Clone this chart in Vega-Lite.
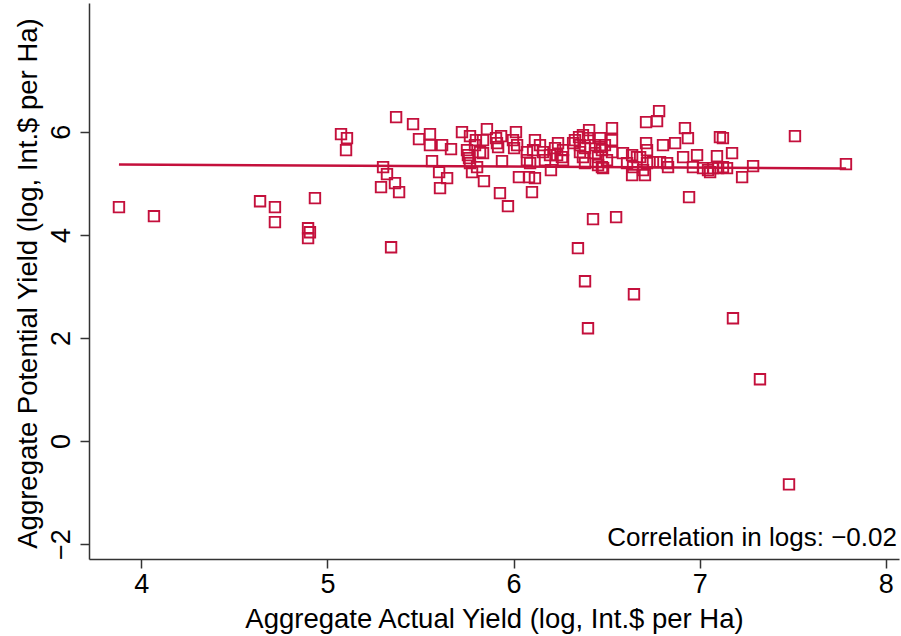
{
  "$schema": "https://vega.github.io/schema/vega-lite/v6.json",
  "width": 810,
  "height": 556,
  "autosize": {"type": "none"},
  "padding": {"left": 89, "top": 3, "right": 2, "bottom": 77},
  "background": "white",
  "config": {
    "view": {"stroke": null},
    "font": "Liberation Sans",
    "axis": {
      "grid": false,
      "labelFont": "Liberation Sans",
      "titleFont": "Liberation Sans",
      "labelFontSize": 27,
      "titleFontSize": 27.5,
      "titleFontWeight": "normal",
      "labelColor": "black",
      "titleColor": "black",
      "domainColor": "#333333",
      "tickColor": "#333333",
      "domainWidth": 1.5,
      "tickWidth": 1.5,
      "tickSize": 9,
      "labelFlush": false,
      "labelOverlap": false
    }
  },
  "datasets": {
    "points": [
      {"actual": 3.880, "potential": 4.538}, {"actual": 4.068, "potential": 4.363}, {"actual": 4.638, "potential": 4.654},
      {"actual": 4.718, "potential": 4.538}, {"actual": 4.718, "potential": 4.247}, {"actual": 4.933, "potential": 4.713},
      {"actual": 4.896, "potential": 4.130}, {"actual": 4.906, "potential": 4.052}, {"actual": 4.896, "potential": 3.936},
      {"actual": 5.073, "potential": 5.955}, {"actual": 5.105, "potential": 5.878}, {"actual": 5.100, "potential": 5.645},
      {"actual": 5.299, "potential": 5.315}, {"actual": 5.320, "potential": 5.179}, {"actual": 5.288, "potential": 4.926},
      {"actual": 5.363, "potential": 5.004}, {"actual": 5.385, "potential": 4.829}, {"actual": 5.342, "potential": 3.761},
      {"actual": 5.369, "potential": 6.285}, {"actual": 5.460, "potential": 6.150}, {"actual": 5.492, "potential": 5.858},
      {"actual": 5.551, "potential": 5.955}, {"actual": 5.551, "potential": 5.742}, {"actual": 5.616, "potential": 5.742},
      {"actual": 5.664, "potential": 5.664}, {"actual": 5.562, "potential": 5.431}, {"actual": 5.600, "potential": 5.217},
      {"actual": 5.643, "potential": 5.101}, {"actual": 5.605, "potential": 4.907}, {"actual": 5.723, "potential": 5.994},
      {"actual": 5.766, "potential": 5.917}, {"actual": 5.750, "potential": 5.645}, {"actual": 5.755, "potential": 5.548},
      {"actual": 5.761, "potential": 5.489}, {"actual": 5.798, "potential": 5.839}, {"actual": 5.836, "potential": 5.839},
      {"actual": 5.857, "potential": 6.052}, {"actual": 5.836, "potential": 5.586}, {"actual": 5.906, "potential": 5.878},
      {"actual": 5.933, "potential": 5.917}, {"actual": 5.917, "potential": 5.703}, {"actual": 6.013, "potential": 5.994},
      {"actual": 5.997, "potential": 5.839}, {"actual": 6.019, "potential": 5.742}, {"actual": 6.003, "potential": 5.684},
      {"actual": 6.072, "potential": 5.606}, {"actual": 6.115, "potential": 5.839}, {"actual": 6.105, "potential": 5.645},
      {"actual": 6.158, "potential": 5.606}, {"actual": 6.196, "potential": 5.548}, {"actual": 6.234, "potential": 5.548},
      {"actual": 6.260, "potential": 5.509}, {"actual": 6.239, "potential": 5.781}, {"actual": 5.777, "potential": 5.217},
      {"actual": 5.804, "potential": 5.315}, {"actual": 5.841, "potential": 5.043}, {"actual": 5.938, "potential": 5.431},
      {"actual": 5.927, "potential": 4.810}, {"actual": 5.970, "potential": 4.557}, {"actual": 6.029, "potential": 5.120},
      {"actual": 6.089, "potential": 5.392}, {"actual": 6.083, "potential": 5.120}, {"actual": 6.115, "potential": 5.101},
      {"actual": 6.099, "potential": 4.829}, {"actual": 6.201, "potential": 5.256}, {"actual": 5.793, "potential": 5.742},
      {"actual": 5.766, "potential": 5.392}, {"actual": 5.820, "potential": 5.606}, {"actual": 5.911, "potential": 5.781},
      {"actual": 6.072, "potential": 5.450}, {"actual": 6.169, "potential": 5.450}, {"actual": 6.223, "potential": 5.684},
      {"actual": 6.142, "potential": 5.742}, {"actual": 6.782, "potential": 6.402}, {"actual": 6.712, "potential": 6.188},
      {"actual": 6.771, "potential": 6.208}, {"actual": 6.529, "potential": 6.072}, {"actual": 6.406, "potential": 6.033},
      {"actual": 6.352, "potential": 5.897}, {"actual": 6.373, "potential": 5.936}, {"actual": 6.400, "potential": 5.878},
      {"actual": 6.320, "potential": 5.781}, {"actual": 6.357, "potential": 5.742}, {"actual": 6.384, "potential": 5.684},
      {"actual": 6.465, "potential": 5.878}, {"actual": 6.529, "potential": 5.839}, {"actual": 6.438, "potential": 5.742},
      {"actual": 6.465, "potential": 5.703}, {"actual": 6.475, "potential": 5.645}, {"actual": 6.438, "potential": 5.586},
      {"actual": 6.454, "potential": 5.509}, {"actual": 6.529, "potential": 5.606}, {"actual": 6.588, "potential": 5.586},
      {"actual": 6.637, "potential": 5.548}, {"actual": 6.663, "potential": 5.509}, {"actual": 6.712, "potential": 5.781},
      {"actual": 6.717, "potential": 5.645}, {"actual": 6.803, "potential": 5.742}, {"actual": 6.868, "potential": 5.781},
      {"actual": 6.921, "potential": 6.072}, {"actual": 6.937, "potential": 5.878}, {"actual": 7.109, "potential": 5.897},
      {"actual": 7.125, "potential": 5.878}, {"actual": 6.911, "potential": 5.509}, {"actual": 6.986, "potential": 5.548},
      {"actual": 7.093, "potential": 5.528}, {"actual": 7.174, "potential": 5.586}, {"actual": 6.749, "potential": 5.412},
      {"actual": 6.787, "potential": 5.412}, {"actual": 6.825, "potential": 5.392}, {"actual": 6.830, "potential": 5.315},
      {"actual": 6.964, "potential": 5.315}, {"actual": 7.018, "potential": 5.295}, {"actual": 7.045, "potential": 5.256},
      {"actual": 7.072, "potential": 5.295}, {"actual": 7.099, "potential": 5.295}, {"actual": 7.125, "potential": 5.315},
      {"actual": 7.147, "potential": 5.295}, {"actual": 7.056, "potential": 5.217}, {"actual": 7.287, "potential": 5.334},
      {"actual": 7.228, "potential": 5.120}, {"actual": 6.384, "potential": 5.392}, {"actual": 6.454, "potential": 5.353},
      {"actual": 6.481, "potential": 5.295}, {"actual": 6.266, "potential": 5.645}, {"actual": 6.266, "potential": 5.450},
      {"actual": 6.637, "potential": 5.159}, {"actual": 6.696, "potential": 5.256}, {"actual": 6.706, "potential": 5.159},
      {"actual": 6.943, "potential": 4.732}, {"actual": 6.427, "potential": 4.305}, {"actual": 6.551, "potential": 4.344},
      {"actual": 6.346, "potential": 3.742}, {"actual": 6.610, "potential": 5.392}, {"actual": 6.642, "potential": 5.315},
      {"actual": 7.512, "potential": 5.917}, {"actual": 7.786, "potential": 5.373}, {"actual": 6.384, "potential": 3.101},
      {"actual": 6.647, "potential": 2.849}, {"actual": 6.400, "potential": 2.188}, {"actual": 7.179, "potential": 2.383},
      {"actual": 7.324, "potential": 1.198}, {"actual": 7.480, "potential": -0.841}, {"actual": 6.330, "potential": 5.839},
      {"actual": 6.373, "potential": 5.509}, {"actual": 6.475, "potential": 5.315}, {"actual": 6.502, "potential": 5.450},
      {"actual": 6.680, "potential": 5.509}, {"actual": 6.717, "potential": 5.392}, {"actual": 6.357, "potential": 5.606},
      {"actual": 6.491, "potential": 5.742}
    ],
    "fit": [
      {"actual": 3.880, "potential": 5.367},
      {"actual": 7.787, "potential": 5.289}
    ],
    "note": [
      {"actual": 8.06, "potential": -1.89, "label": "Correlation in logs: −0.02"}
    ]
  },
  "encoding": {
    "x": {
      "field": "actual",
      "type": "quantitative",
      "scale": {"domain": [3.719, 8.071], "nice": false, "zero": false},
      "axis": {
        "values": [4, 5, 6, 7, 8],
        "title": "Aggregate Actual Yield (log, Int.$ per Ha)",
        "labelPadding": 3,
        "titleBaseline": "alphabetic",
        "titleY": 68
      }
    },
    "y": {
      "field": "potential",
      "type": "quantitative",
      "scale": {"domain": [-2.29, 8.5], "nice": false, "zero": false},
      "axis": {
        "values": [-2, 0, 2, 4, 6],
        "title": "Aggregate Potential Yield (log, Int.$ per Ha)",
        "labelAngle": 270,
        "labelAlign": "center",
        "labelBaseline": "alphabetic",
        "labelPadding": 11,
        "titleAngle": 270,
        "titleAlign": "center",
        "titleBaseline": "alphabetic",
        "titleX": -53,
        "titleY": 280
      }
    }
  },
  "layer": [
    {
      "data": {"name": "points"},
      "mark": {"type": "point", "shape": "square", "filled": false, "color": "#C4103C", "size": 110, "strokeWidth": 1.9, "opacity": 1}
    },
    {
      "data": {"name": "fit"},
      "mark": {"type": "line", "color": "#C4103C", "strokeWidth": 2.5}
    },
    {
      "data": {"name": "note"},
      "mark": {"type": "text", "align": "right", "baseline": "middle", "fontSize": 26, "font": "Liberation Sans", "color": "black"},
      "encoding": {"text": {"field": "label", "type": "nominal"}}
    }
  ]
}
